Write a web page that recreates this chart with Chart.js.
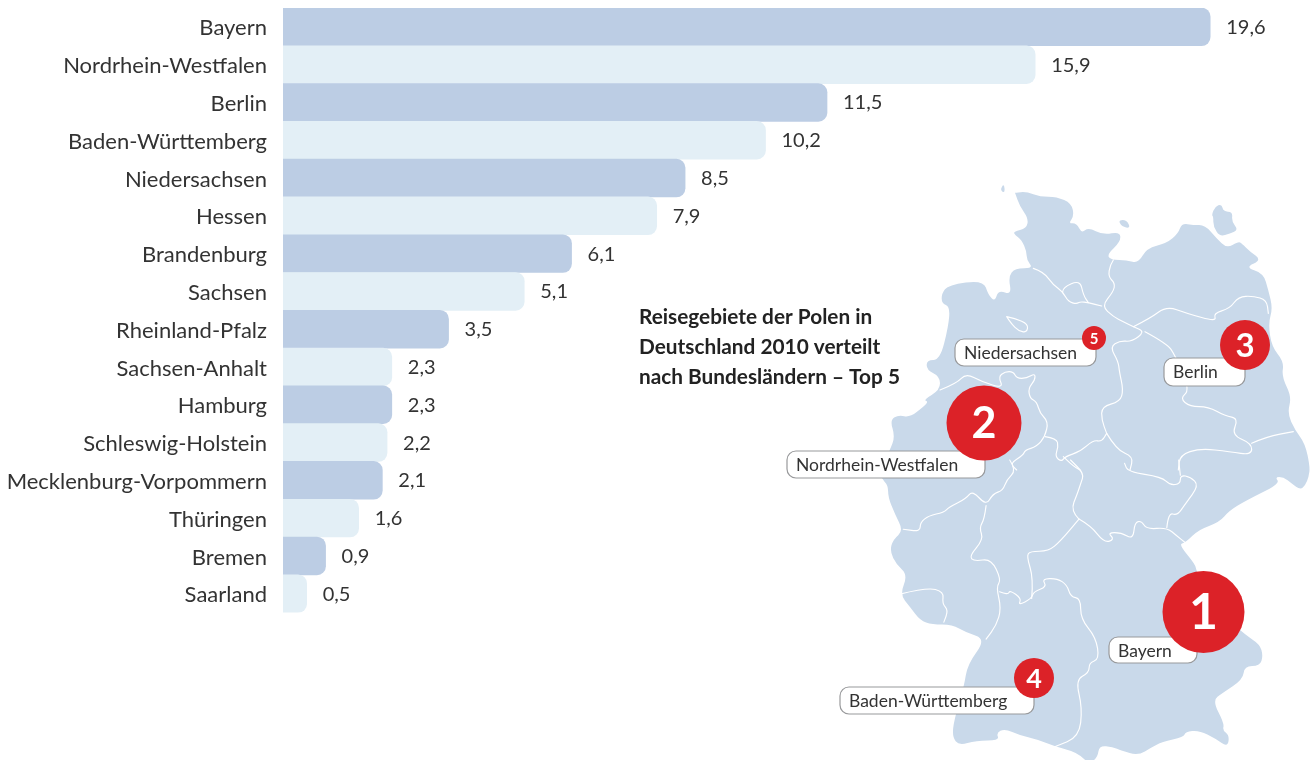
<!DOCTYPE html>
<html lang="de">
<head>
<meta charset="utf-8">
<title>Reisegebiete der Polen in Deutschland 2010</title>
<script src="https://cdn.jsdelivr.net/npm/chart.js@4/dist/chart.umd.min.js"></script>
<style>
html,body{margin:0;padding:0;background:#fff;overflow:hidden}
#wrap{position:relative;width:1310px;height:760px}
</style>
</head>
<body>
<div id="wrap"><canvas id="c" width="1310" height="760"></canvas></div>
<script>
const categories = ["Bayern","Nordrhein-Westfalen","Berlin","Baden-Württemberg","Niedersachsen","Hessen","Brandenburg","Sachsen","Rheinland-Pfalz","Sachsen-Anhalt","Hamburg","Schleswig-Holstein","Mecklenburg-Vorpommern","Thüringen","Bremen","Saarland"];
const shares = [19.6,15.9,11.5,10.2,8.5,7.9,6.1,5.1,3.5,2.3,2.3,2.2,2.1,1.6,0.9,0.5];
const titleLines = ["Reisegebiete der Polen in","Deutschland 2010 verteilt","nach Bundesländern – Top 5"];
const barColors = ["#bccde4","#e3eff6"];
const FONT = 'Lato, "Open Sans", sans-serif';
const TEXT = "#333333";

// map artwork: traced decoration, in two local coordinate frames
const A = p => ({x:880+p[0]/3, y:180+p[1]/3});
const B = p => ({x:780+p[0]/2.96, y:460+p[1]/2.96});
const coastNorth = [[405,38],[440,35],[480,50],[530,50],[575,70],[582,110],[565,130],[590,130],[605,160],[625,142],[670,165],[720,155],[722,185],[680,225],[695,240],[740,240],[775,250],[800,205],[860,190],[895,160],[905,130],[940,135],[975,135],[1010,175],[1040,205],[1075,185],[1085,190],[1110,215],[1145,240],[1095,262],[1150,280],[1165,330],[1178,385],[1165,430],[1175,500],[1212,545],[1205,590],[1235,650],[1222,700],[1245,750],[1275,790],[1290,860]];
const coastSouth = [[1565,50],[1555,75],[1540,88],[1515,70],[1490,50],[1465,50],[1480,70],[1380,120],[1330,150],[1300,185],[1240,205],[1200,245],[1180,250],[1230,310],[1232,330],[1300,450],[1380,520],[1420,545],[1430,580],[1420,610],[1375,610],[1370,650],[1310,690],[1280,712],[1315,780],[1310,800],[1330,815],[1325,850],[1290,825],[1240,800],[1200,805],[1195,820],[1130,835],[1100,850],[1060,875],[1010,860],[985,850],[945,845],[940,880],[915,900],[890,875],[860,860],[815,848],[770,830],[710,815],[665,795],[640,808],[650,830],[580,830],[530,845],[510,820],[515,770],[545,670],[555,605],[610,530],[550,510],[510,487],[450,487],[415,475],[385,435],[355,398],[378,340],[345,310],[325,270],[335,235],[365,210],[340,160],[320,110],[320,75],[300,55]];
const coastWest = [[0,870],[30,810],[45,770],[30,720],[55,705],[90,712],[130,680],[145,665],[130,660],[180,630],[180,590],[140,570],[140,540],[180,540],[205,440],[210,380],[185,370],[185,340],[205,315],[310,300],[325,345],[345,365],[355,330],[395,345],[385,290],[405,265],[460,265],[440,240],[440,215],[425,180],[405,165],[400,155],[440,145],[445,115],[420,80],[405,38]];
const islands = [
  [[360,30],[372,10],[375,40]],
  [[715,120],[740,120],[752,145],[725,140]],
  [[995,105],[1005,80],[1025,72],[1030,95],[1058,95],[1055,125],[1075,150],[1050,160],[1020,170],[1000,140],[1000,110]]
];
const bordersA = [
  [[460,265],[490,275],[520,315],[548,335],[565,365],[590,372],[600,365],[625,368],[665,378]],
  [[548,335],[548,322],[600,300],[610,345],[625,368]],
  [[700,240],[690,255],[685,290],[705,310],[700,335],[665,378],[700,410],[730,425],[760,440],[795,455],[755,485],[720,482],[690,500],[715,545],[718,575],[730,630],[720,665],[665,680],[665,720],[680,760]],
  [[760,440],[810,415],[860,378],[920,400],[1010,425],[1000,400],[1050,385],[1075,350],[1120,348],[1160,360],[1165,400]],
  [[795,455],[860,490],[885,525],[930,630],[900,655],[930,680],[985,680],[1035,708],[1075,715],[1055,765],[1115,790],[1115,825],[1050,815],[960,805],[900,825],[895,870]],
  [[1115,790],[1160,770],[1240,755]],
  [[680,760],[710,810],[760,830],[750,870]],
  [[180,630],[230,610],[258,580],[305,605],[370,625],[355,590],[375,575],[400,575],[410,595],[440,595],[465,580],[465,600],[445,625],[450,655],[470,665],[480,700],[505,725],[495,770],[470,800],[435,810],[430,825],[390,850],[410,870]],
  [[495,770],[530,775],[535,800],[525,830],[545,845],[555,830],[600,815],[640,780],[665,785],[680,760]],
  [[550,830],[575,855],[600,870]],
  [[380,410],[405,415],[445,432],[440,458],[415,452],[395,432],[380,410]]
];
const bordersB = [
  [[680,0],[700,30],[670,60],[660,90],[630,100],[610,135],[570,90],[550,115],[500,140],[485,155],[440,165],[415,185],[415,212],[365,205]],
  [[610,135],[605,175],[590,200],[602,235],[560,285],[575,300],[625,292],[655,355],[640,375],[655,440],[640,490],[610,530]],
  [[355,397],[435,377],[485,390],[480,425],[498,445],[485,480]],
  [[650,390],[675,400],[680,385],[715,410],[705,430],[745,410],[750,390],[790,375],[775,352],[820,350],[850,370],[860,405],[890,410],[890,470],[935,525],[945,590],[915,600],[915,630],[875,650],[895,735],[885,820],[815,848]],
  [[745,410],[750,350],[730,285],[740,270],[795,270],[830,240],[885,175]],
  [[885,175],[860,150],[880,100],[890,70],[900,40],[860,0]],
  [[885,175],[920,195],[960,245],[990,235],[970,215],[1010,215],[1045,235],[1050,185],[1070,180],[1085,205],[1145,200],[1175,225],[1200,245]],
  [[1145,200],[1150,155],[1175,165],[1200,130],[1240,75],[1215,50],[1185,45],[1185,70],[1155,75],[1130,50],[1030,35],[1020,10]],
  [[1185,45],[1180,0]]
];
const mapLabels = [
  {t:"Niedersachsen",x:955,y:339,w:141,h:27},
  {t:"Berlin",x:1164,y:358,w:81,h:28},
  {t:"Nordrhein-Westfalen",x:787,y:451,w:198,h:27},
  {t:"Bayern",x:1109,y:637,w:88,h:26},
  {t:"Baden-Württemberg",x:840,y:687,w:194,h:27}
];
const badges = [
  {t:"1",x:1203.5,y:612,r:41,f:50},
  {t:"2",x:984,y:423,r:37.5,f:43},
  {t:"3",x:1245,y:345,r:25,f:33},
  {t:"4",x:1034,y:678,r:20,f:27},
  {t:"5",x:1094,y:338,r:12,f:15}
];

// open curve through midpoints so the traced outlines read as soft coastlines
function smooth(ctx, pts, closed){
  const n = pts.length;
  const mid = (a,b)=>({x:(a.x+b.x)/2,y:(a.y+b.y)/2});
  if(closed){
    const s = mid(pts[n-1],pts[0]);
    ctx.moveTo(s.x,s.y);
    for(let i=0;i<n;i++){ const m = mid(pts[i],pts[(i+1)%n]); ctx.quadraticCurveTo(pts[i].x,pts[i].y,m.x,m.y); }
    ctx.closePath();
  } else {
    ctx.moveTo(pts[0].x,pts[0].y);
    for(let i=1;i<n-1;i++){ const m = mid(pts[i],pts[i+1]); ctx.quadraticCurveTo(pts[i].x,pts[i].y,m.x,m.y); }
    ctx.lineTo(pts[n-1].x,pts[n-1].y);
  }
}

const mapPlugin = {
  id:"germanyMap",
  afterDraw(chart){
    const ctx = chart.ctx;
    ctx.save();
    ctx.lineJoin = "round"; ctx.lineCap = "round";
    ctx.fillStyle = "#c9d9ea";
    ctx.beginPath();
    smooth(ctx,[...coastNorth.map(A),...coastSouth.map(B),...coastWest.map(A)],true);
    islands.forEach(s=>smooth(ctx,s.map(A),true));
    ctx.fill();
    ctx.strokeStyle = "#ffffff"; ctx.lineWidth = 1.15;
    bordersA.forEach(s=>{ ctx.beginPath(); smooth(ctx,s.map(A),false); ctx.stroke(); });
    bordersB.forEach(s=>{ ctx.beginPath(); smooth(ctx,s.map(B),false); ctx.stroke(); });

    mapLabels.forEach(l=>{
      ctx.beginPath(); ctx.roundRect(l.x,l.y,l.w,l.h,9);
      ctx.fillStyle="#fff"; ctx.fill();
      ctx.strokeStyle="#98999b"; ctx.lineWidth=1.2; ctx.stroke();
      ctx.fillStyle=TEXT; ctx.font="17.5px "+FONT;
      ctx.textAlign="left"; ctx.textBaseline="alphabetic";
      ctx.fillText(l.t,l.x+9,l.y+20);
    });
    badges.forEach(b=>{
      ctx.beginPath(); ctx.arc(b.x,b.y,b.r,0,Math.PI*2);
      ctx.fillStyle="#dc2228"; ctx.fill();
      ctx.fillStyle="#fff"; ctx.font="bold "+b.f+"px "+FONT;
      ctx.textAlign="center"; ctx.textBaseline="middle";
      ctx.fillText(b.t,b.x,b.y+1);
    });
    ctx.fillStyle="#222"; ctx.font="bold 20.8px "+FONT;
    ctx.textAlign="left"; ctx.textBaseline="alphabetic";
    titleLines.forEach((s,i)=>ctx.fillText(s,639,324+i*30));
    ctx.restore();
  }
};

const valueLabels = {
  id:"valueLabels",
  afterDatasetsDraw(chart){
    const ctx = chart.ctx, meta = chart.getDatasetMeta(0);
    ctx.save();
    ctx.font = "20px "+FONT; ctx.fillStyle = TEXT;
    ctx.textAlign="left"; ctx.textBaseline="middle";
    meta.data.forEach((bar,i)=>{
      ctx.fillText(shares[i].toFixed(1).replace(".",","), bar.x+16, bar.y+0.5);
    });
    ctx.restore();
  }
};

new Chart(document.getElementById("c"),{
  type:"bar",
  data:{labels:categories,datasets:[{
    data:shares,
    backgroundColor:categories.map((_,i)=>barColors[i%2]),
    borderWidth:0,
    borderRadius:{topLeft:0,bottomLeft:0,topRight:9,bottomRight:9},
    borderSkipped:false,
    barPercentage:1,categoryPercentage:1
  }]},
  options:{
    indexAxis:"y",responsive:false,animation:false,
    layout:{padding:{top:8,bottom:147.4,left:0,right:0}},
    plugins:{legend:{display:false},tooltip:{enabled:false},title:{display:false}},
    scales:{
      x:{display:false,min:0,max:21.71},
      y:{
        afterFit(s){s.width=283;s.paddingTop=0;s.paddingBottom=0;},
        grid:{display:false,drawTicks:false,tickLength:0},border:{display:false},
        ticks:{color:TEXT,font:{family:FONT,size:22},padding:16,autoSkip:false,labelOffset:1.5}
      }
    }
  },
  plugins:[valueLabels,mapPlugin]
});
</script>
</body>
</html>
